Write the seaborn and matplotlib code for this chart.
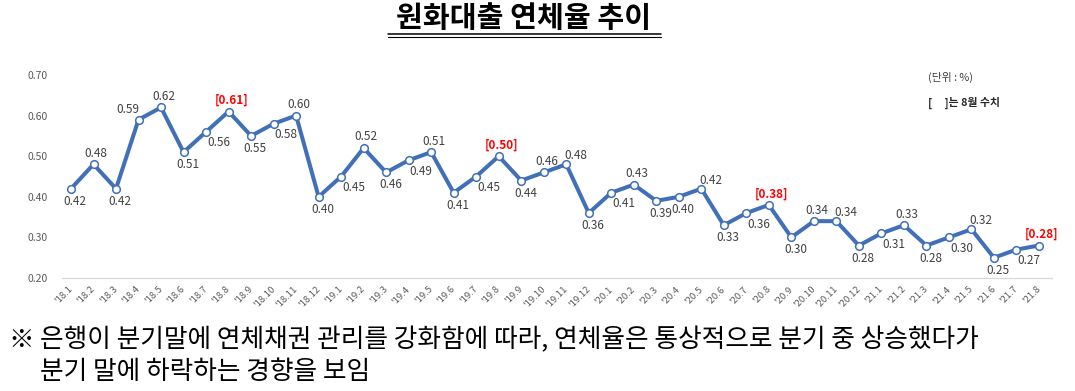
import matplotlib
matplotlib.use('Agg')
import matplotlib.pyplot as plt
import seaborn as sns
import pandas as pd
from matplotlib.lines import Line2D

# ==========================================
# Data
# ==========================================
months = ["'18.1", "'18.2", "'18.3", "'18.4", "'18.5", "'18.6", "'18.7", "'18.8",
          "'18.9", "'18.10", "'18.11", "'18.12",
          "'19.1", "'19.2", "'19.3", "'19.4", "'19.5", "'19.6", "'19.7", "'19.8",
          "'19.9", "'19.10", "'19.11", "'19.12",
          "'20.1", "'20.2", "'20.3", "'20.4", "'20.5", "'20.6", "'20.7", "'20.8",
          "'20.9", "'20.10", "'20.11", "'20.12",
          "'21.1", "'21.2", "'21.3", "'21.4", "'21.5", "'21.6", "'21.7", "'21.8"]
rates = [0.42, 0.48, 0.42, 0.59, 0.62, 0.51, 0.56, 0.61, 0.55, 0.58, 0.60, 0.40,
         0.45, 0.52, 0.46, 0.49, 0.51, 0.41, 0.45, 0.50, 0.44, 0.46, 0.48, 0.36,
         0.41, 0.43, 0.39, 0.40, 0.42, 0.33, 0.36, 0.38, 0.30, 0.34, 0.34, 0.28,
         0.31, 0.33, 0.28, 0.30, 0.32, 0.25, 0.27, 0.28]
y_ticks = [0.20, 0.30, 0.40, 0.50, 0.60, 0.70]

title = '원화대출 연체율 추이'
unit_note = '(단위 : %)'
bracket_note = '[     ]는 8월 수치'
footnote_1 = '은행이 분기말에 연체채권 관리를 강화함에 따라, 연체율은 통상적으로 분기 중 상승했다가'
footnote_2 = '분기 말에 하락하는 경향을 보임'

# where each value label sits relative to its point (layout only)
label_side = ['b', 'a', 'b', 'al', 'a', 'b', 'br', 'a', 'b', 'br', 'a', 'b',
              'br', 'a', 'b', 'br', 'a', 'b', 'br', 'a', 'b', 'a', 'ar', 'b',
              'br', 'a', 'b', 'b', 'ar', 'b', 'br', 'a', 'b', 'a', 'ar', 'b',
              'br', 'a', 'b', 'br', 'ar', 'b', 'br', 'a']
side_offset = {'a': (2, 8), 'b': (3, -9), 'br': (9, -8), 'ar': (7, 6), 'al': (-8, 7)}

df = pd.DataFrame({'idx': range(len(months)), 'month': months, 'rate': rates})

# ==========================================
# Style
# ==========================================
sns.set_theme(style='white')
plt.rcParams['font.family'] = ['Noto Sans CJK KR', 'DejaVu Sans']

LINE_COLOR = '#4170B8'
TEXT_GRAY = '#404040'

fig = plt.figure(figsize=(10.75, 3.91), dpi=100)
ax = fig.add_axes([62 / 1075, 1 - 278 / 391, 990 / 1075, 203 / 391])

sns.lineplot(data=df, x='idx', y='rate', ax=ax, color=LINE_COLOR, linewidth=2.9,
             marker='o', markersize=5.5, markerfacecolor='white',
             markeredgecolor=LINE_COLOR, markeredgewidth=1.1, errorbar=None)

ax.set_xlim(-0.4, 43.58)
ax.set_ylim(0.20, 0.70)
ax.set_yticks(y_ticks)
ax.set_yticklabels([f'{v:.2f}' for v in y_ticks], fontsize=7.5, color='#595959')
ax.set_xticks(df['idx'])
ax.set_xticklabels(months, fontsize=6.8, color='#595959', rotation=45,
                   ha='right', va='center', rotation_mode='anchor')
ax.tick_params(axis='both', length=0)
ax.tick_params(axis='y', pad=10)
ax.tick_params(axis='x', pad=7)
ax.set_xlabel('')
ax.set_ylabel('')
for s in ['left', 'right', 'top']:
    ax.spines[s].set_visible(False)
ax.spines['bottom'].set_color('#d9d9d9')
ax.spines['bottom'].set_linewidth(0.9)

# value labels, August values in red brackets
for i, (m, v) in enumerate(zip(months, rates)):
    dx, dy = side_offset[label_side[i]]
    if m.endswith('.8'):
        ax.annotate(f'[{v:.2f}]', (i, v), xytext=(dx, dy), textcoords='offset points',
                    ha='center', va='center', fontsize=8.5, color='#ff0000',
                    fontweight='bold')
    else:
        ax.annotate(f'{v:.2f}', (i, v), xytext=(dx, dy), textcoords='offset points',
                    ha='center', va='center', fontsize=8.5, color=TEXT_GRAY)

# notes at top right
fig.text(928 / 1075, 1 - 77 / 391, unit_note, fontsize=7.8, color=TEXT_GRAY,
         ha='left', va='center')
fig.text(928 / 1075, 1 - 103 / 391, bracket_note, fontsize=7.8, color='#262626',
         ha='left', va='center', fontweight='bold')

# title with double underline
fig.text(524 / 1075, 1 - 18 / 391, title, fontsize=21, fontweight='bold',
         color='black', ha='center', va='center')
for yy in (34, 37):
    fig.add_artist(Line2D([388 / 1075, 661 / 1075], [1 - yy / 391, 1 - yy / 391],
                          color='black', linewidth=1.1 if yy == 34 else 0.8))

# footnote
fig.text(8 / 1075, 1 - 340 / 391, '※', fontsize=18.5, color='black',
         ha='left', va='center')
fig.text(40 / 1075, 1 - 340 / 391, footnote_1, fontsize=18.5, color='black',
         ha='left', va='center')
fig.text(40 / 1075, 1 - 372 / 391, footnote_2, fontsize=18.5, color='black',
         ha='left', va='center')

fig.savefig('out.png', dpi=100, facecolor='white')
